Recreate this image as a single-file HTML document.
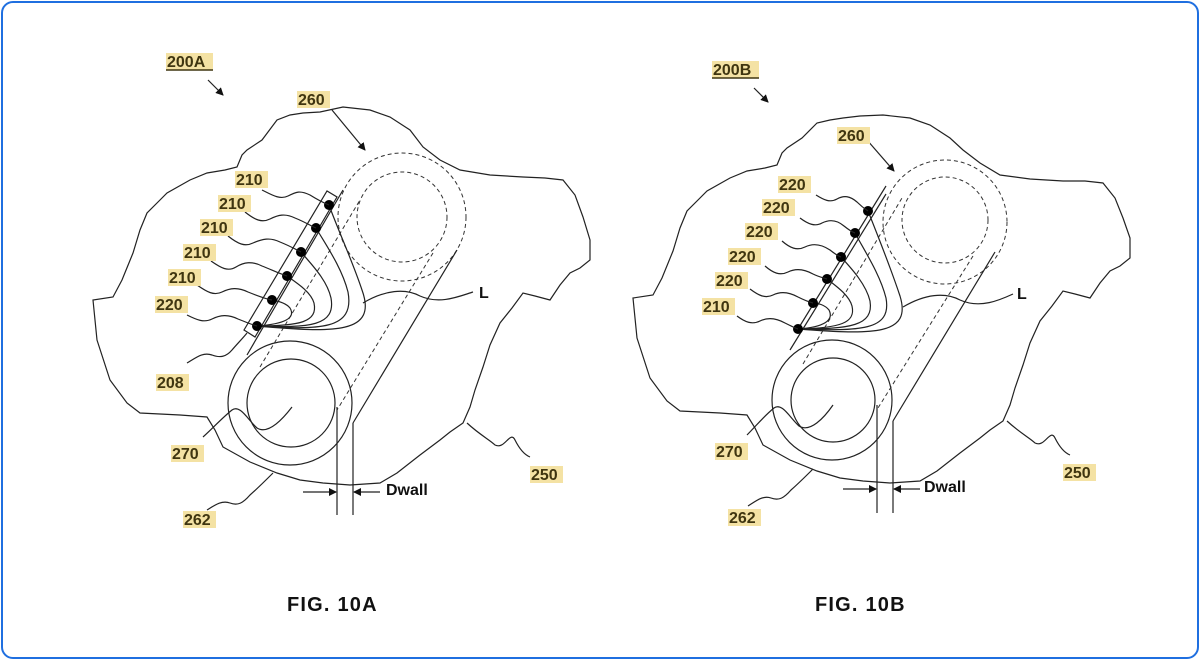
<!DOCTYPE html>
<html><head><meta charset="utf-8"><style>
html,body{margin:0;padding:0;background:#fff;}
.card{position:absolute;left:1px;top:1px;width:1194px;height:654px;border:2px solid #1f6fe0;border-radius:12px;background:#fff;}
svg{position:absolute;left:0;top:0;}
.l{fill:none;stroke:#222;stroke-width:1.2;}
.d{fill:none;stroke:#333;stroke-width:1;stroke-dasharray:4 3;}
.t{font-family:"Liberation Sans",sans-serif;font-weight:bold;font-size:16px;fill:#3f3510;}
.bg{fill:#f4e2a4;}
.f{font-family:"Liberation Sans",sans-serif;font-weight:bold;font-size:20px;fill:#111;letter-spacing:1.2px;}
</style></head><body>
<div class="card"></div>
<svg width="1200" height="660" viewBox="0 0 1200 660">
<defs>
<marker id="ah" markerWidth="8" markerHeight="8" refX="7" refY="4" orient="auto" markerUnits="userSpaceOnUse"><path d="M0,0 L8,4 L0,8 Z" fill="#111"/></marker>
</defs>

<!-- ===== FIG A ===== -->
<g id="A">
<path class="l" d="M140,413 L127,403 L110,380 L97,340 L93,300 L113,297 L122,280 L133,253 L140,230 L147,213 L160,200 L167,193 L190,180 L207,173 L225,170 L237,167 L242,155 L247,150 L262,140 L277,120 L290,115 L303,113 L320,112 L343,107 L370,110 L390,117 L410,130 L423,147 L440,160 L460,170 L490,175 L523,177 L545,178 L563,180 L575,195 L583,217 L590,240 L590,260 L580,268 L570,273 L560,285 L550,300 L535,296 L523,293 L512,308 L500,323 L490,345 L483,367 L475,390 L470,407 L463,423 L450,432 L440,440 L420,455 L397,473 L380,483 L350,485 L323,483 L300,480 L277,473 L250,462 L223,447 L215,430 L207,417 L180,415 Z"/>
<path class="l" d="M467,423 C480,435 490,440 495,445 C505,450 510,430 515,440 C520,450 525,455 530,457"/>
<circle class="d" cx="402" cy="217" r="64"/>
<circle class="d" cx="402" cy="217" r="45"/>
<circle class="l" cx="290" cy="403" r="62"/>
<circle class="l" cx="291" cy="403" r="44"/>
<path class="l" d="M247,355 L343,190"/>
<path class="l" d="M457,250 L353,423"/>
<path class="d" d="M260,367 L360,200"/>
<path class="d" d="M433,253 L337,410"/>
<path class="l" d="M337,407 L337,515 M353,423 L353,515"/>
<path class="l" d="M303,492 L336,492" marker-end="url(#ah)"/>
<path class="l" d="M380,492 L354,492" marker-end="url(#ah)"/>
<text x="386" y="495" style="font-family:'Liberation Sans',sans-serif;font-weight:bold;font-size:16px;fill:#111">Dwall</text>
<path class="l" d="M363,303 C385,290 405,288 420,296 C440,305 460,296 473,292"/>
<text x="479" y="298" style="font-family:'Liberation Sans',sans-serif;font-weight:bold;font-size:16px;fill:#111">L</text>
<path class="l" d="M244,330 L255,337 L337,197 L327,191 Z"/>
<path class="l" d="M257,326 C335,333 378,334 362,290 C352,260 338,230 329,205"/>
<path class="l" d="M257,326 C320,330 355,330 348,292 C342,268 326,245 316,228"/>
<path class="l" d="M257,326 C310,328 336,326 331,298 C327,280 312,265 301,252"/>
<path class="l" d="M257,326 C300,326 318,322 314,303 C311,292 297,283 287,276"/>
<path class="l" d="M257,326 C285,324 296,318 290,308 C286,303 278,301 272,300"/>
<g fill="#000"><circle cx="329" cy="205" r="5"/><circle cx="316" cy="228" r="5"/><circle cx="301" cy="252" r="5"/><circle cx="287" cy="276" r="5"/><circle cx="272" cy="300" r="5"/><circle cx="257" cy="326" r="5"/></g>
<path class="l" d="M262,190 C272,195 280,200 288,196 C296,192 300,190 310,195 C318,200 324,203 329,205"/>
<path class="l" d="M245,212 C255,220 262,223 270,219 C278,215 285,213 295,218 C305,222 311,226 316,228"/>
<path class="l" d="M228,236 C238,244 245,247 253,243 C262,239 270,237 280,242 C290,246 297,250 301,252"/>
<path class="l" d="M211,261 C221,268 228,272 236,267 C244,262 252,261 262,266 C272,270 281,274 287,276"/>
<path class="l" d="M197,285 C207,292 214,296 222,292 C230,288 238,287 248,292 C258,296 266,299 272,300"/>
<path class="l" d="M187,315 C197,320 204,323 212,319 C220,315 228,314 238,319 C248,323 253,325 257,326"/>
<path class="l" d="M187,363 C197,357 203,352 212,355 C220,358 226,357 232,350 C238,343 243,338 247,333"/>
<path class="l" d="M203,437 C213,428 222,418 232,410 C240,404 248,420 257,428 C268,435 282,420 292,407"/>
<path class="l" d="M207,510 C215,505 222,500 230,503 C238,506 243,503 250,495 C258,488 266,480 273,473"/>
<path class="l" d="M332,110 L365,150" marker-end="url(#ah)"/>
<path class="l" d="M208,80 L223,95" marker-end="url(#ah)"/>
<rect class="bg" x="166" y="53" width="47" height="17"/><text class="t" x="167" y="67">200A</text>
<path d="M166,70 L213,70" stroke="#3f3510" stroke-width="1.5"/>
<rect class="bg" x="297" y="91" width="33" height="17"/><text class="t" x="298" y="105">260</text>
<rect class="bg" x="235" y="171" width="33" height="17"/><text class="t" x="236" y="185">210</text>
<rect class="bg" x="218" y="195" width="33" height="17"/><text class="t" x="219" y="209">210</text>
<rect class="bg" x="200" y="219" width="33" height="17"/><text class="t" x="201" y="233">210</text>
<rect class="bg" x="183" y="244" width="33" height="17"/><text class="t" x="184" y="258">210</text>
<rect class="bg" x="168" y="269" width="33" height="17"/><text class="t" x="169" y="283">210</text>
<rect class="bg" x="155" y="296" width="33" height="17"/><text class="t" x="156" y="310">220</text>
<rect class="bg" x="156" y="374" width="33" height="17"/><text class="t" x="157" y="388">208</text>
<rect class="bg" x="171" y="445" width="33" height="17"/><text class="t" x="172" y="459">270</text>
<rect class="bg" x="183" y="511" width="33" height="17"/><text class="t" x="184" y="525">262</text>
<rect class="bg" x="530" y="466" width="33" height="17"/><text class="t" x="531" y="480">250</text>
</g>

<!-- ===== FIG B ===== -->
<g transform="translate(540,-2)">
<path class="l" d="M140,413 L127,403 L110,380 L97,340 L93,300 L113,297 L122,280 L133,253 L140,230 L147,213 L160,200 L167,193 L190,180 L207,173 L225,170 L237,167 L242,155 L247,150 L262,140 L277,125 L290,122 L303,120 L320,118 L343,117 L370,120 L390,127 L410,140 L423,152 L440,165 L460,177 L490,181 L523,183 L545,183 L563,185 L575,200 L583,220 L590,240 L590,260 L580,268 L570,273 L560,285 L550,300 L535,296 L523,293 L512,308 L500,323 L490,345 L483,367 L475,390 L470,407 L463,423 L450,432 L440,440 L420,455 L397,473 L380,483 L350,485 L323,483 L300,480 L277,473 L250,462 L223,447 L215,430 L207,417 L180,415 Z"/>
<path class="l" d="M467,423 C480,435 490,440 495,445 C505,450 510,430 515,440 C520,450 525,455 530,457"/>
<circle class="d" cx="405" cy="224" r="62"/>
<circle class="d" cx="405" cy="222" r="43"/>
<circle class="l" cx="292" cy="402" r="60"/>
<circle class="l" cx="293" cy="402" r="42"/>
<path class="l" d="M250,352 L346,196"/>
<path class="l" d="M455,254 L353,423"/>
<path class="d" d="M263,366 L362,200"/>
<path class="d" d="M433,258 L338,410"/>
<path class="l" d="M337,407 L337,515 M353,423 L353,515"/>
<path class="l" d="M303,491 L336,491" marker-end="url(#ah)"/>
<path class="l" d="M380,491 L354,491" marker-end="url(#ah)"/>
<text x="384" y="494" style="font-family:'Liberation Sans',sans-serif;font-weight:bold;font-size:16px;fill:#111">Dwall</text>
<path class="l" d="M363,309 C385,296 405,294 420,302 C440,311 460,302 473,296"/>
<text x="477" y="301" style="font-family:'Liberation Sans',sans-serif;font-weight:bold;font-size:16px;fill:#111">L</text>
<path class="l" d="M258,331 L346,188"/>
<path class="l" d="M258,331 C335,337 372,337 360,298 C350,268 338,238 328,213"/>
<path class="l" d="M258,331 C320,333 352,333 346,300 C340,276 324,252 315,235"/>
<path class="l" d="M258,331 C310,331 334,328 330,303 C326,286 311,270 301,259"/>
<path class="l" d="M258,331 C300,330 316,325 312,308 C309,297 296,288 287,281"/>
<path class="l" d="M258,331 C285,329 294,322 289,312 C285,307 278,305 273,305"/>
<g fill="#000"><circle cx="328" cy="213" r="5"/><circle cx="315" cy="235" r="5"/><circle cx="301" cy="259" r="5"/><circle cx="287" cy="281" r="5"/><circle cx="273" cy="305" r="5"/><circle cx="258" cy="331" r="5"/></g>
<path class="l" d="M276,197 C284,202 290,205 297,201 C304,197 310,198 317,204 C322,209 325,211 328,213"/>
<path class="l" d="M260,220 C268,226 275,229 282,225 C290,221 297,222 304,228 C309,232 312,234 315,235"/>
<path class="l" d="M242,243 C250,250 257,253 265,249 C273,245 281,246 290,252 C295,256 298,258 301,259"/>
<path class="l" d="M225,268 C233,275 240,278 248,274 C256,270 264,271 273,276 C279,279 284,280 287,281"/>
<path class="l" d="M210,291 C218,297 225,301 233,297 C241,293 249,294 258,299 C264,302 269,304 273,305"/>
<path class="l" d="M197,318 C205,324 212,327 220,323 C228,319 236,320 245,325 C251,328 255,330 258,331"/>
<path class="l" d="M207,437 C216,428 224,418 234,410 C242,404 250,420 259,428 C270,435 284,420 293,407"/>
<path class="l" d="M208,508 C216,503 223,497 231,500 C239,503 244,500 251,492 C259,485 266,478 273,471"/>
<path class="l" d="M327,142 L354,173" marker-end="url(#ah)"/>
<path class="l" d="M214,90 L228,104" marker-end="url(#ah)"/>
<rect class="bg" x="172" y="63" width="47" height="17"/><text class="t" x="173" y="77">200B</text>
<path d="M172,80 L219,80" stroke="#3f3510" stroke-width="1.5"/>
<rect class="bg" x="297" y="129" width="33" height="17"/><text class="t" x="298" y="143">260</text>
<rect class="bg" x="238" y="178" width="33" height="17"/><text class="t" x="239" y="192">220</text>
<rect class="bg" x="222" y="201" width="33" height="17"/><text class="t" x="223" y="215">220</text>
<rect class="bg" x="205" y="225" width="33" height="17"/><text class="t" x="206" y="239">220</text>
<rect class="bg" x="188" y="250" width="33" height="17"/><text class="t" x="189" y="264">220</text>
<rect class="bg" x="175" y="274" width="33" height="17"/><text class="t" x="176" y="288">220</text>
<rect class="bg" x="162" y="300" width="33" height="17"/><text class="t" x="163" y="314">210</text>
<rect class="bg" x="175" y="445" width="33" height="17"/><text class="t" x="176" y="459">270</text>
<rect class="bg" x="188" y="511" width="33" height="17"/><text class="t" x="189" y="525">262</text>
<rect class="bg" x="523" y="466" width="33" height="17"/><text class="t" x="524" y="480">250</text>
</g>

<text class="f" x="287" y="611">FIG. 10A</text>
<text class="f" x="815" y="611">FIG. 10B</text>
</svg>
</body></html>
